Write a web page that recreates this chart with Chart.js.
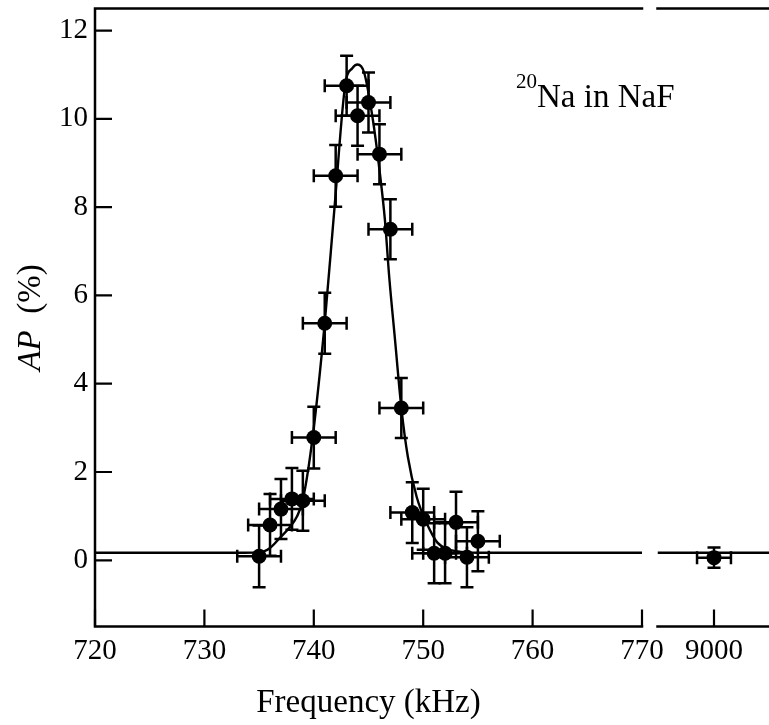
<!DOCTYPE html>
<html>
<head>
<meta charset="utf-8">
<script src="https://cdn.jsdelivr.net/npm/chart.js@4"></script>
<style>
  html, body { margin: 0; padding: 0; background: #fff; overflow: hidden; }
  #wrap { position: relative; width: 769px; height: 725px; overflow: hidden; }
  #mainCanvas { position: absolute; left: 0; top: 0; }
  #farCanvas { position: absolute; left: 650px; top: 0; }
</style>
</head>
<body>
<div id="wrap">
  <canvas id="mainCanvas" width="680" height="725"></canvas>
  <canvas id="farCanvas" width="128" height="725"></canvas>
</div>
<script>
// measured points, 735-755 kHz
const freq     = [735, 736, 737, 738, 739, 740, 741, 742, 743, 744, 745, 746, 747, 748, 749, 750, 751, 752, 753, 754, 755];
const asym     = [0.09, 0.80, 1.16, 1.39, 1.35, 2.78, 5.37, 8.71, 10.75, 10.07, 10.37, 9.20, 7.50, 3.45, 1.08, 0.93, 0.16, 0.16, 0.86, 0.07, 0.43];
const freqErr  = [2, 2, 2, 2, 2, 2, 2, 2, 2, 2, 2, 2, 2, 2, 2, 2, 2, 2, 2, 2, 2];
const asymErr  = [0.70, 0.70, 0.68, 0.70, 0.68, 0.70, 0.69, 0.70, 0.68, 0.68, 0.68, 0.68, 0.68, 0.68, 0.69, 0.69, 0.68, 0.68, 0.69, 0.68, 0.68];

// off-resonance point
const farFreq    = [9000];
const farAsym    = [0.06];
const farFreqErr = [15];
const farAsymErr = [0.23];

// fitted curve
const fitFreq = [720, 733, 735, 736, 736.9, 737.7, 738.46, 739.0, 739.9, 741.0, 741.9, 742.9, 743.5, 744.0, 744.6, 745.4, 746.0, 746.5, 746.9, 747.4, 748.0, 748.6, 749.4, 750.3, 751.3, 752.3, 753.5, 755, 770];
const fitAsym = [0.17, 0.17, 0.18, 0.28, 0.51, 0.72, 0.99, 1.37, 2.80, 5.38, 8.01, 10.82, 11.14, 11.23, 11.05, 9.98, 8.85, 7.71, 6.40, 5.06, 3.46, 2.34, 1.44, 0.85, 0.40, 0.25, 0.19, 0.17, 0.17];
const farFitFreq = [8950, 9050];
const farFitAsym = [0.17, 0.17];

const xTicksMain = [720, 730, 740, 750, 760, 770];
const xTicksFar  = [9000];
const yTicks     = [0, 2, 4, 6, 8, 10, 12];

const FONT = 'Liberation Serif';
const Y_MIN = -1.5, Y_MAX = 12.5;

const toXY = (xs, ys) => xs.map((v, i) => ({ x: v, y: ys[i] }));

// error bars with caps
const errorBars = {
  id: 'errorBars',
  afterDatasetsDraw(chart) {
    const { ctx, scales: { x, y } } = chart;
    const cap = 6.5;
    chart.data.datasets.forEach(ds => {
      if (!ds.errX) return;
      ctx.save();
      ctx.strokeStyle = '#000';
      ctx.lineWidth = 2.5;
      ds.data.forEach((p, i) => {
        const px = x.getPixelForValue(p.x);
        const py = y.getPixelForValue(p.y);
        const x0 = x.getPixelForValue(p.x - ds.errX[i]);
        const x1 = x.getPixelForValue(p.x + ds.errX[i]);
        const y0 = y.getPixelForValue(p.y - ds.errY[i]);
        const y1 = y.getPixelForValue(p.y + ds.errY[i]);
        ctx.beginPath();
        ctx.moveTo(x0, py); ctx.lineTo(x1, py);
        ctx.moveTo(x0, py - cap); ctx.lineTo(x0, py + cap);
        ctx.moveTo(x1, py - cap); ctx.lineTo(x1, py + cap);
        ctx.moveTo(px, y0); ctx.lineTo(px, y1);
        ctx.moveTo(px - cap, y0); ctx.lineTo(px + cap, y0);
        ctx.moveTo(px - cap, y1); ctx.lineTo(px + cap, y1);
        ctx.stroke();
      });
      ctx.restore();
    });
  }
};

// frame lines and inward ticks
const frame = {
  id: 'frame',
  afterDraw(chart, args, opts) {
    const { ctx, chartArea: a, scales } = chart;
    ctx.save();
    ctx.strokeStyle = '#000';
    ctx.lineWidth = 2.5;
    ctx.lineCap = 'square';
    ctx.beginPath();
    ctx.moveTo(a.left, a.top); ctx.lineTo(a.right, a.top);
    ctx.moveTo(a.left, a.bottom); ctx.lineTo(a.right, a.bottom);
    if (opts.leftAxis) { ctx.moveTo(a.left, a.top); ctx.lineTo(a.left, a.bottom); }
    ctx.stroke();
    ctx.lineWidth = 2.2;
    ctx.lineCap = 'butt';
    ctx.beginPath();
    scales.x.ticks.forEach(t => {
      const px = scales.x.getPixelForValue(t.value);
      ctx.moveTo(px, a.bottom); ctx.lineTo(px, a.bottom - 17);
    });
    if (opts.leftAxis) {
      scales.y.ticks.forEach(t => {
        const py = scales.y.getPixelForValue(t.value);
        ctx.moveTo(a.left, py); ctx.lineTo(a.left + 17, py);
      });
    }
    ctx.stroke();
    ctx.restore();
  }
};

// y title (italic AP) and sample label
const labels = {
  id: 'labels',
  afterDraw(chart) {
    const { ctx, chartArea: a } = chart;
    ctx.save();
    ctx.fillStyle = '#000';
    const midY = (a.top + a.bottom) / 2;
    ctx.translate(40, midY);
    ctx.rotate(-Math.PI / 2);
    ctx.textBaseline = 'alphabetic';
    ctx.font = `italic 33px "${FONT}"`;
    const w1 = ctx.measureText('AP').width;
    ctx.font = `33px "${FONT}"`;
    const rest = '  (%)';
    const w2 = ctx.measureText(rest).width;
    const start = -(w1 + w2) / 2;
    ctx.font = `italic 33px "${FONT}"`;
    ctx.fillText('AP', start, 0);
    ctx.font = `33px "${FONT}"`;
    ctx.fillText(rest, start + w1, 0);
    ctx.restore();

    ctx.save();
    ctx.fillStyle = '#000';
    ctx.textBaseline = 'alphabetic';
    ctx.font = `21px "${FONT}"`;
    ctx.fillText('20', 516, 88);
    const sw = ctx.measureText('20').width;
    ctx.font = `33px "${FONT}"`;
    ctx.fillText('Na in NaF', 516 + sw, 107);
    ctx.restore();
  }
};

function yScale(display) {
  return {
    type: 'linear',
    min: Y_MIN,
    max: Y_MAX,
    display: display,
    grid: { display: false, drawTicks: false },
    border: { display: false },
    afterBuildTicks: s => { s.ticks = yTicks.map(v => ({ value: v })); },
    afterFit: s => { s.width = display ? 95 : 0; s.paddingTop = 0; s.paddingBottom = 0; },
    ticks: { color: '#000', padding: 7, font: { family: FONT, size: 29 } }
  };
}

function xScale(min, max, tickVals, withTitle) {
  return {
    type: 'linear',
    min: min,
    max: max,
    grid: { display: false, drawTicks: false },
    border: { display: false },
    afterBuildTicks: s => { s.ticks = tickVals.map(v => ({ value: v })); },
    afterFit: s => { s.height = 98.5; s.paddingLeft = 0; s.paddingRight = 0; },
    ticks: {
      color: '#000', padding: 7, maxRotation: 0, autoSkip: false,
      font: { family: FONT, size: 29 },
      callback: v => String(v)
    },
    title: {
      display: withTitle,
      text: 'Frequency (kHz)',
      color: '#000',
      font: { family: FONT, size: 33 },
      padding: { top: 0, bottom: 2 }
    }
  };
}

new Chart(document.getElementById('mainCanvas').getContext('2d'), {
  type: 'scatter',
  data: {
    datasets: [
      {
        type: 'line',
        data: toXY(fitFreq, fitAsym),
        borderColor: '#000',
        borderWidth: 2.4,
        pointRadius: 0,
        cubicInterpolationMode: 'monotone',
        fill: false
      },
      {
        data: toXY(freq, asym),
        errX: freqErr,
        errY: asymErr,
        pointRadius: 7.5,
        pointBackgroundColor: '#000',
        pointBorderWidth: 0
      }
    ]
  },
  options: {
    responsive: false,
    animation: false,
    events: [],
    layout: { padding: { left: 0, right: 38, top: 8.5, bottom: 0 } },
    plugins: { legend: { display: false }, tooltip: { enabled: false }, frame: { leftAxis: true } },
    scales: { x: xScale(720, 770, xTicksMain, true), y: yScale(true) }
  },
  plugins: [errorBars, frame, labels]
});

new Chart(document.getElementById('farCanvas').getContext('2d'), {
  type: 'scatter',
  data: {
    datasets: [
      {
        type: 'line',
        data: toXY(farFitFreq, farFitAsym),
        borderColor: '#000',
        borderWidth: 2.4,
        pointRadius: 0,
        fill: false
      },
      {
        data: toXY(farFreq, farAsym),
        errX: farFreqErr,
        errY: farAsymErr,
        pointRadius: 7.5,
        pointBackgroundColor: '#000',
        pointBorderWidth: 0
      }
    ]
  },
  options: {
    responsive: false,
    animation: false,
    events: [],
    layout: { padding: { left: 6, right: 0, top: 8.5, bottom: 0 } },
    plugins: { legend: { display: false }, tooltip: { enabled: false }, frame: { leftAxis: false } },
    scales: { x: xScale(8950, 9050, xTicksFar, false), y: yScale(false) }
  },
  plugins: [errorBars, frame]
});
</script>
</body>
</html>
